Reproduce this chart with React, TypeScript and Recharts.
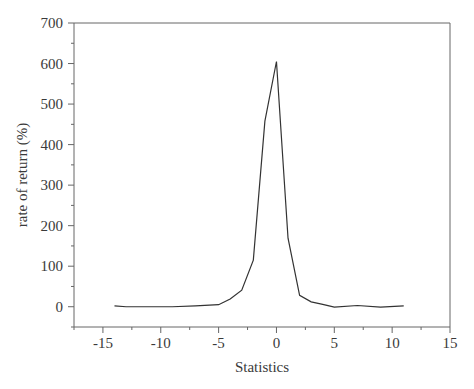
import React from "react";
import { LineChart, Line, XAxis, YAxis, ReferenceLine } from "recharts";

const statistics = [-14, -13, -9, -7, -5, -4, -3, -2, -1, 0, 1, 2, 3, 4, 5, 7, 9, 11];
const rateOfReturn = [2, 0, 0, 2, 5, 19, 41, 115, 458, 605, 169, 28, 12, 6, -1, 3, -1, 2];

const xTicks = [-17.5, -15, -12.5, -10, -7.5, -5, -2.5, 0, 2.5, 5, 7.5, 10, 12.5, 15];
const yTicks = [-50, 0, 50, 100, 150, 200, 250, 300, 350, 400, 450, 500, 550, 600, 650, 700];

const data = statistics.map((x, i) => ({ x, y: rateOfReturn[i] }));

const FONT = "'Liberation Serif', 'DejaVu Serif', serif";
const TEXT = "#3a3a3a";
const AXIS = "#666";

function XTick(props: any) {
  const { x, y, payload } = props;
  const v = payload.value;
  const major = v % 5 === 0;
  return (
    <g>
      <line x1={x} x2={x} y1={y} y2={y + (major ? 6 : 3)} stroke={AXIS} />
      {major && (
        <text x={x} y={y + 21} textAnchor="middle" fill={TEXT} fontSize={15} fontFamily={FONT}>
          {v}
        </text>
      )}
    </g>
  );
}

function YTick(props: any) {
  const { x, y, payload } = props;
  const v = payload.value;
  const major = v % 100 === 0;
  return (
    <g>
      <line x1={x - (major ? 6 : 3)} x2={x} y1={y} y2={y} stroke={AXIS} />
      {major && (
        <text x={x - 11} y={y + 5} textAnchor="end" fill={TEXT} fontSize={15} fontFamily={FONT}>
          {v}
        </text>
      )}
    </g>
  );
}

export default function App() {
  return (
    <div style={{ position: "absolute", left: 0, top: 0, background: "#fff" }}>
      <LineChart
        width={474}
        height={389}
        data={data}
        margin={{ top: 23, right: 24, left: 0, bottom: 0 }}
      >
        <XAxis
          dataKey="x"
          type="number"
          domain={[-17.5, 15]}
          ticks={xTicks}
          interval={0}
          height={62}
          tickSize={0}
          tickMargin={0}
          tickLine={false}
          axisLine={{ stroke: AXIS }}
          tick={<XTick />}
          label={{
            value: "Statistics",
            position: "insideBottom",
            offset: 17,
            fill: TEXT,
            fontSize: 15,
            fontFamily: FONT,
          }}
        />
        <YAxis
          type="number"
          domain={[-50, 700]}
          ticks={yTicks}
          interval={0}
          width={74}
          tickSize={0}
          tickMargin={0}
          tickLine={false}
          axisLine={{ stroke: AXIS }}
          tick={<YTick />}
          label={{
            value: "rate of return (%)",
            angle: -90,
            position: "center",
            dx: -15,
            fill: TEXT,
            fontSize: 15,
            fontFamily: FONT,
          }}
        />
        <ReferenceLine y={700} stroke={AXIS} />
        <ReferenceLine x={15} stroke={AXIS} />
        <Line
          type="linear"
          dataKey="y"
          stroke="#333"
          strokeWidth={1.2}
          dot={false}
          isAnimationActive={false}
        />
      </LineChart>
    </div>
  );
}
